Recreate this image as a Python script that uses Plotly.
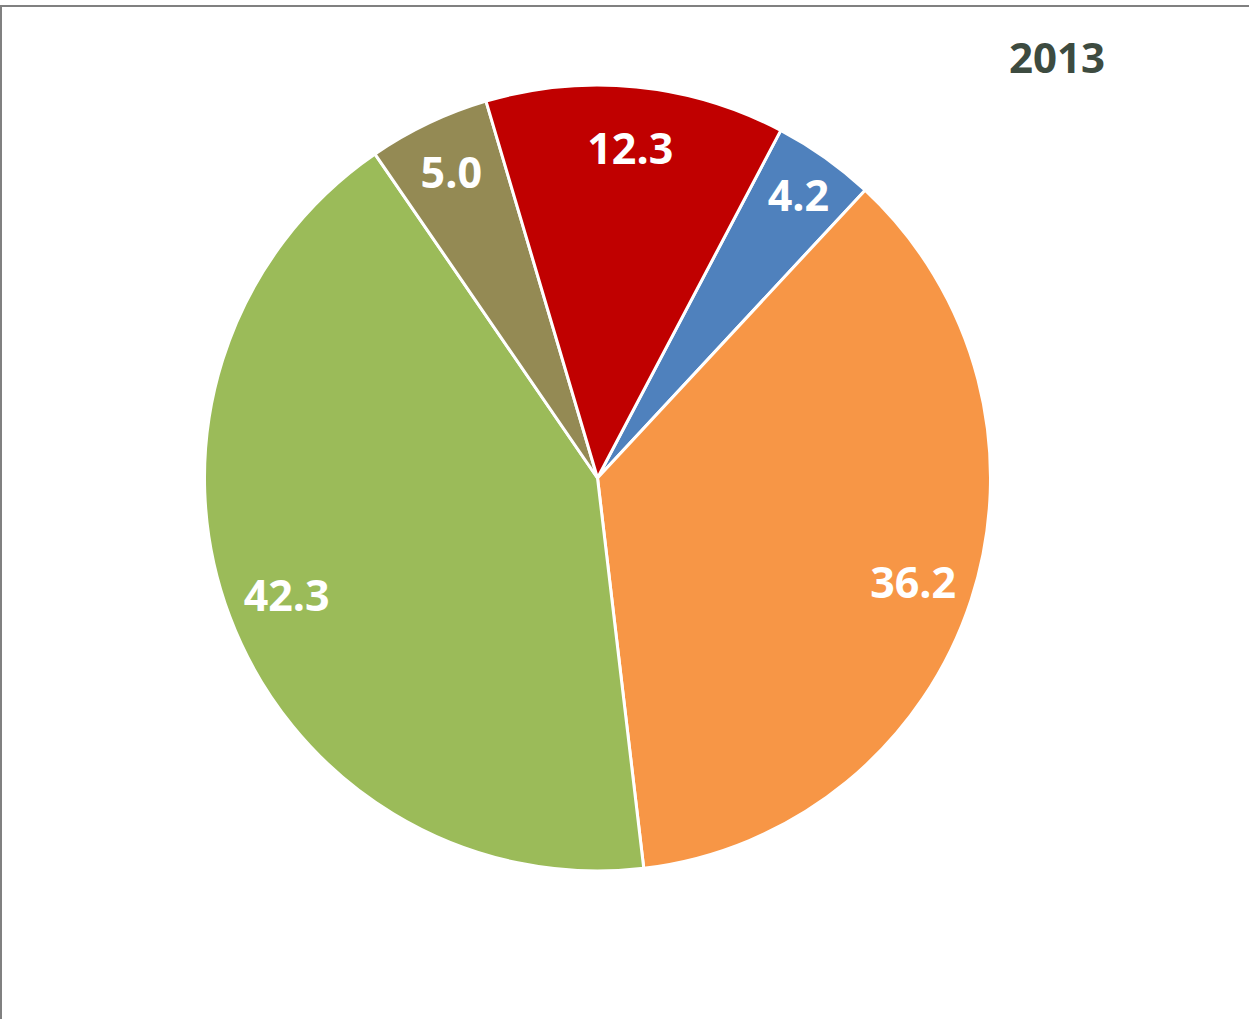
import plotly.graph_objects as go

categories = ["Blue", "Orange", "Green", "Olive", "Red"]
values = [4.2, 36.2, 42.3, 5.0, 12.3]
colors = ["#4F81BD", "#F79646", "#9BBB59", "#948A54", "#C00000"]
title_text = "2013"

W, H = 1249, 1019
dom_x = [204 / W, 991 / W]
dom_y = [1 - 871 / H, 1 - 85 / H]

fig = go.Figure()
fig.add_trace(go.Pie(
    labels=categories, values=values, sort=False, direction="clockwise",
    rotation=27.8, marker=dict(colors=colors, line=dict(color="white", width=3)),
    textinfo="none", domain=dict(x=dom_x, y=dom_y), hoverinfo="label+value",
))
fig.add_trace(go.Pie(
    labels=categories, values=values, sort=False, direction="clockwise",
    rotation=27.8, hole=0.69,
    marker=dict(colors=["rgba(0,0,0,0)"] * len(values), line=dict(width=0)),
    texttemplate="%{value:.1f}", textposition="inside", insidetextorientation="horizontal",
    textfont=dict(family="Open Sans", size=43, color="white", weight="bold"),
    domain=dict(x=dom_x, y=dom_y), hoverinfo="skip",
))

fig.update_layout(
    width=W, height=H, margin=dict(l=0, r=0, t=0, b=0),
    paper_bgcolor="white", showlegend=False,
    annotations=[dict(text=f"<b>{title_text}</b>", x=1057 / W, y=1 - 57 / H,
                      xref="paper", yref="paper", showarrow=False,
                      xanchor="center", yanchor="middle",
                      font=dict(family="Open Sans", size=42, color="#3D4B40"))],
    shapes=[
        dict(type="line", xref="paper", yref="paper", x0=0, x1=1, y0=1 - 6 / H, y1=1 - 6 / H,
             line=dict(color="#808080", width=2)),
        dict(type="line", xref="paper", yref="paper", x0=1 / W, x1=1 / W, y0=0, y1=1 - 6 / H,
             line=dict(color="#808080", width=2)),
    ],
)
fig.write_html("out.html", config={"displayModeBar": False},
               post_script="document.body.style.margin='0';document.body.style.overflow='hidden';")
